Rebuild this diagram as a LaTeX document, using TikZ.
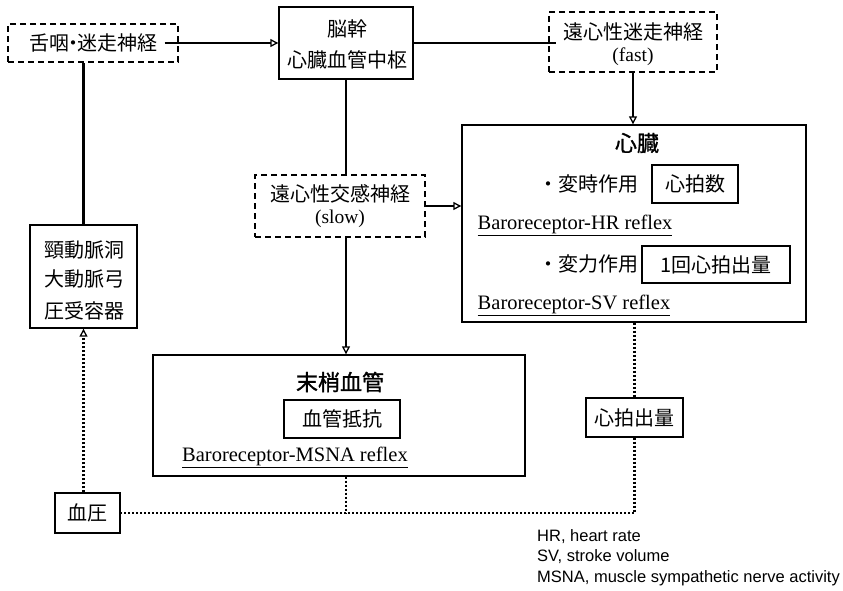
\documentclass[tikz,border=0pt]{standalone}
\usepackage{fontspec}
\setmainfont{Liberation Serif}
\newfontfamily\jp{Noto Sans CJK JP}
\newfontfamily\jpb[FakeBold=1.2]{Noto Sans CJK JP}
\newfontfamily\lsans{Liberation Sans}
\usetikzlibrary{arrows.meta}
\begin{document}
\begin{tikzpicture}[x=1pt,y=-1pt,
  box/.style={draw, line width=1.4pt, inner sep=0pt},
  dbox/.style={draw, line width=1.4pt, dash pattern=on 6pt off 4pt, inner sep=0pt},
  conn/.style={line width=2.3pt},
  dconn/.style={line width=2.5pt, dash pattern=on 2.2pt off 1.8pt},
  arr/.style={-{Triangle[open,length=8pt,width=8pt,line width=1.3pt]}},
  jt/.style={font=\jp\fontsize{20}{23}\selectfont, inner sep=0pt},
  jtitle/.style={font=\jpb\fontsize{22}{25}\selectfont, inner sep=0pt},
  et/.style={font=\fontsize{19.5}{22}\selectfont, inner sep=0pt},
  rt/.style={font=\fontsize{20.5}{23}\selectfont, inner sep=0pt},
  lt/.style={font=\lsans\fontsize{16.5}{19}\selectfont, inner sep=0pt, anchor=west}]
\path[use as bounding box] (0,0) rectangle (843,590);

% boxes
\node[dbox, jt, minimum width=170, minimum height=38] (glosso) at (93,43) {舌咽{\kern-0.3em}・{\kern-0.3em}迷走神経};
\node[box, minimum width=134, minimum height=72] (brain) at (346,43) {};
\node[jt] (brain1) at (347,29) {脳幹};
\node[jt] (brain2) at (347,60) {心臓血管中枢};
\node[dbox, minimum width=168, minimum height=60] (efvag) at (633,42) {};
\node[jt] (efvag1) at (633,32) {遠心性迷走神経};
\node[et] (efvag2) at (633,57) {(fast)};
\node[dbox, minimum width=170, minimum height=62] (efsym) at (340,206) {};
\node[jt] (efsym1) at (340,194) {遠心性交感神経};
\node[et] (efsym2) at (340,219) {(slow)};

\node[box, minimum width=344, minimum height=197] (heart) at (634,223.5) {};
\node[jtitle] (hearttitle) at (637,143) {心臓};
\node[jt] (chrono) at (588,184) {・変時作用};
\node[box, jt, minimum width=86, minimum height=38] (hr) at (695,184) {心拍数};
\node[rt] (hrref) at (575,225) {\underline{Baroreceptor-HR reflex}};
\node[jt] (ino) at (588,264) {・変力作用};
\node[box, jt, minimum width=148, minimum height=37] (sv) at (716,264.5) {1回心拍出量};
\node[rt] (svref) at (574,305) {\underline{Baroreceptor-SV reflex}};

\node[box, minimum width=372, minimum height=121] (peri) at (339,415.5) {};
\node[jtitle] (perititle) at (340,382) {末梢血管};
\node[box, jt, minimum width=116, minimum height=38] (vr) at (342,419) {血管抵抗};
\node[rt] (msnaref) at (295,457) {\underline{Baroreceptor-MSNA reflex}};

\node[box, minimum width=107, minimum height=103] (baro) at (83.5,276.5) {};
\node[jt] (baro1) at (84,250) {頸動脈洞};
\node[jt] (baro2) at (84,279) {大動脈弓};
\node[jt] (baro3) at (84,311) {圧受容器};

\node[box, jt, minimum width=65, minimum height=40] (bp) at (87.5,513) {血圧};
\node[box, jt, minimum width=97, minimum height=39] (co) at (634.5,417.5) {心拍出量};

% legend
\node[lt] (l1) at (537,537) {HR, heart rate};
\node[lt] (l2) at (537,557) {SV, stroke volume};
\node[lt] (l3) at (537,578) {MSNA, muscle sympathetic nerve activity};

% connectors
\draw[conn, arr] ([xshift=-14pt]glosso.east) -- (brain.west);
\draw[conn] (brain.east) -- ([xshift=8pt]brain.east -| efvag.west);
\draw[conn, arr] (efvag.south) -- (efvag.south |- heart.north);
\draw[conn] (brain.south) -- (brain.south |- efsym.north);
\draw[conn, arr] (efsym.east) -- (efsym.east -| heart.west);
\draw[conn, arr] (brain.south |- efsym.south) -- (brain.south |- peri.north);
\draw[conn] (baro.north) -- (baro.north |- glosso.south);
\draw[dconn, arr] (baro.south |- bp.north) -- (baro.south);
\draw[dconn] (heart.south -| co.north) -- (co.north);
\draw[dconn] (co.south) -- (co.south |- bp.east) -- (bp.east);
\draw[dconn] (peri.south -| brain.south) -- (brain.south |- bp.east);
\end{tikzpicture}
\end{document}
